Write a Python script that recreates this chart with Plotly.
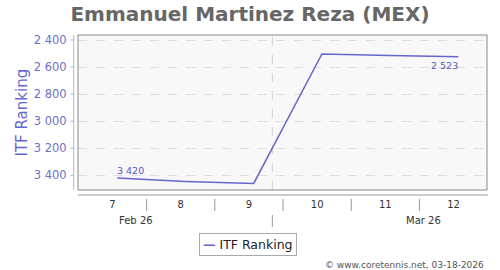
import plotly.graph_objects as go

# ---- data ----
weeks = [7, 8, 9, 10, 11, 12]
ranking = [3420, 3445, 3460, 2503, 2515, 2523]
months = ["Feb 26", "Mar 26"]
month_pos = [7.28, 11.49]
month_boundary = 9.273
y_ticks = [2400, 2600, 2800, 3000, 3200, 3400]
title = "Emmanuel Martinez Reza (MEX)"
series_name = "ITF Ranking"
credit = "© www.coretennis.net, 03-18-2026"

def fmt(v):
    s = f"{v:,}"
    return s.replace(",", " ")

LINE = "#6666cc"
TICKC = "#7070c8"
FONT = "DejaVu Sans"

fig = go.Figure()
fig.add_trace(go.Scatter(
    x=weeks, y=ranking, mode="lines", name=series_name,
    line=dict(color=LINE, width=1.5),
    cliponaxis=False, showlegend=False,
))

x0, x1 = 6.424, 12.42
y_top, y_bot = 2363, 3508.6
PW, PH = 409, 155

shapes = []
# plot border
shapes.append(dict(type="rect", xref="paper", yref="paper", x0=0, x1=1, y0=0, y1=1,
                   line=dict(color="#888888", width=1), layer="above"))
# month boundary inside plot
shapes.append(dict(type="line", xref="x", yref="paper", x0=month_boundary, x1=month_boundary,
                   y0=0, y1=1, line=dict(color="#d0d0d0", width=1, dash="dash"), layer="below"))
# y axis line (detached)
shapes.append(dict(type="line", xref="paper", yref="paper", x0=-4.3 / PW, x1=-4.3 / PW,
                   y0=0, y1=1, line=dict(color="#b0b0e0", width=1)))
for t in y_ticks:
    shapes.append(dict(type="line", xref="paper", yref="y", x0=-7.5 / PW, x1=-4.3 / PW,
                       y0=t, y1=t, line=dict(color="#b0b0e0", width=1)))
# x axis line (detached)
shapes.append(dict(type="line", xref="paper", yref="paper", x0=0, x1=1.002,
                   y0=-5 / PH, y1=-5 / PH, line=dict(color="#999999", width=1)))
# category separators
for w in weeks[:-1]:
    xs = w + 0.43
    shapes.append(dict(type="line", xref="x", yref="paper", x0=xs, x1=xs,
                       y0=-9 / PH, y1=-21 / PH, line=dict(color="#999999", width=1)))
# month separator
shapes.append(dict(type="line", xref="x", yref="paper", x0=month_boundary, x1=month_boundary,
                   y0=-25 / PH, y1=-37 / PH, line=dict(color="#999999", width=1)))

annotations = []
# value labels on first and last points
annotations.append(dict(x=weeks[0], y=ranking[0], xref="x", yref="y", text=fmt(ranking[0]),
                        showarrow=False, xanchor="left", yanchor="middle", xshift=-2, yshift=7.6,
                        font=dict(family=FONT, size=9.5, color="#5555bb")))
annotations.append(dict(x=weeks[-1], y=ranking[-1], xref="x", yref="y", text=fmt(ranking[-1]),
                        showarrow=False, xanchor="right", yanchor="middle", xshift=2, yshift=-9,
                        font=dict(family=FONT, size=9.5, color="#5555bb")))
for m, p in zip(months, month_pos):
    annotations.append(dict(x=p, y=-30 / PH, xref="x", yref="paper", text=m, showarrow=False,
                            font=dict(family=FONT, size=10, color="#333333"),
                            xanchor="center", yanchor="middle"))
# credit
annotations.append(dict(x=(486 - 78) / PW, y=(190 - 265) / PH, xref="paper", yref="paper",
                        text=credit, showarrow=False, xanchor="right", yanchor="middle",
                        font=dict(family=FONT, size=9, color="#555555")))
# legend box
annotations.append(dict(x=(248 - 78) / PW, y=(190 - 244) / PH, xref="paper", yref="paper",
                        text=f'<span style="color:{LINE}"><b>—</b></span> {series_name}',
                        showarrow=False, xanchor="center", yanchor="middle",
                        bordercolor="#aaaaaa", borderwidth=1, borderpad=3, bgcolor="white",
                        font=dict(family=FONT, size=12.5, color="#222222")))
# y axis title
annotations.append(dict(x=(21 - 78) / PW, y=0.5, xref="paper", yref="paper",
                        text=series_name, textangle=-90, showarrow=False,
                        xanchor="center", yanchor="middle",
                        font=dict(family=FONT, size=15, color=LINE)))

fig.update_layout(
    width=500, height=270,
    margin=dict(l=78, r=13, t=35, b=80),
    paper_bgcolor="white", plot_bgcolor="#f8f8f8",
    title=dict(text=f"<b>{title}</b>", x=0.5, xanchor="center", y=1 - 14 / 270, yanchor="middle",
               font=dict(family=FONT, size=20, color="#666666")),
    font=dict(family=FONT),
    showlegend=False,
    xaxis=dict(range=[x0, x1], tickvals=[w - 0.07 for w in weeks], ticktext=[str(w) for w in weeks],
               showgrid=False, zeroline=False, showline=False,
               ticks="outside", ticklen=5, tickcolor="rgba(0,0,0,0)",
               tickfont=dict(family=FONT, size=10, color="#333333")),
    yaxis=dict(range=[y_bot, y_top], tickvals=y_ticks, ticktext=[fmt(t) for t in y_ticks],
               showgrid=True, gridcolor="#dddddd", griddash="dash", gridwidth=1,
               zeroline=False, showline=False,
               ticks="outside", ticklen=8, tickcolor="rgba(0,0,0,0)",
               tickfont=dict(family=FONT, size=11.5, color=TICKC)),
    shapes=shapes, annotations=annotations,
)

fig.write_html("out.html")
